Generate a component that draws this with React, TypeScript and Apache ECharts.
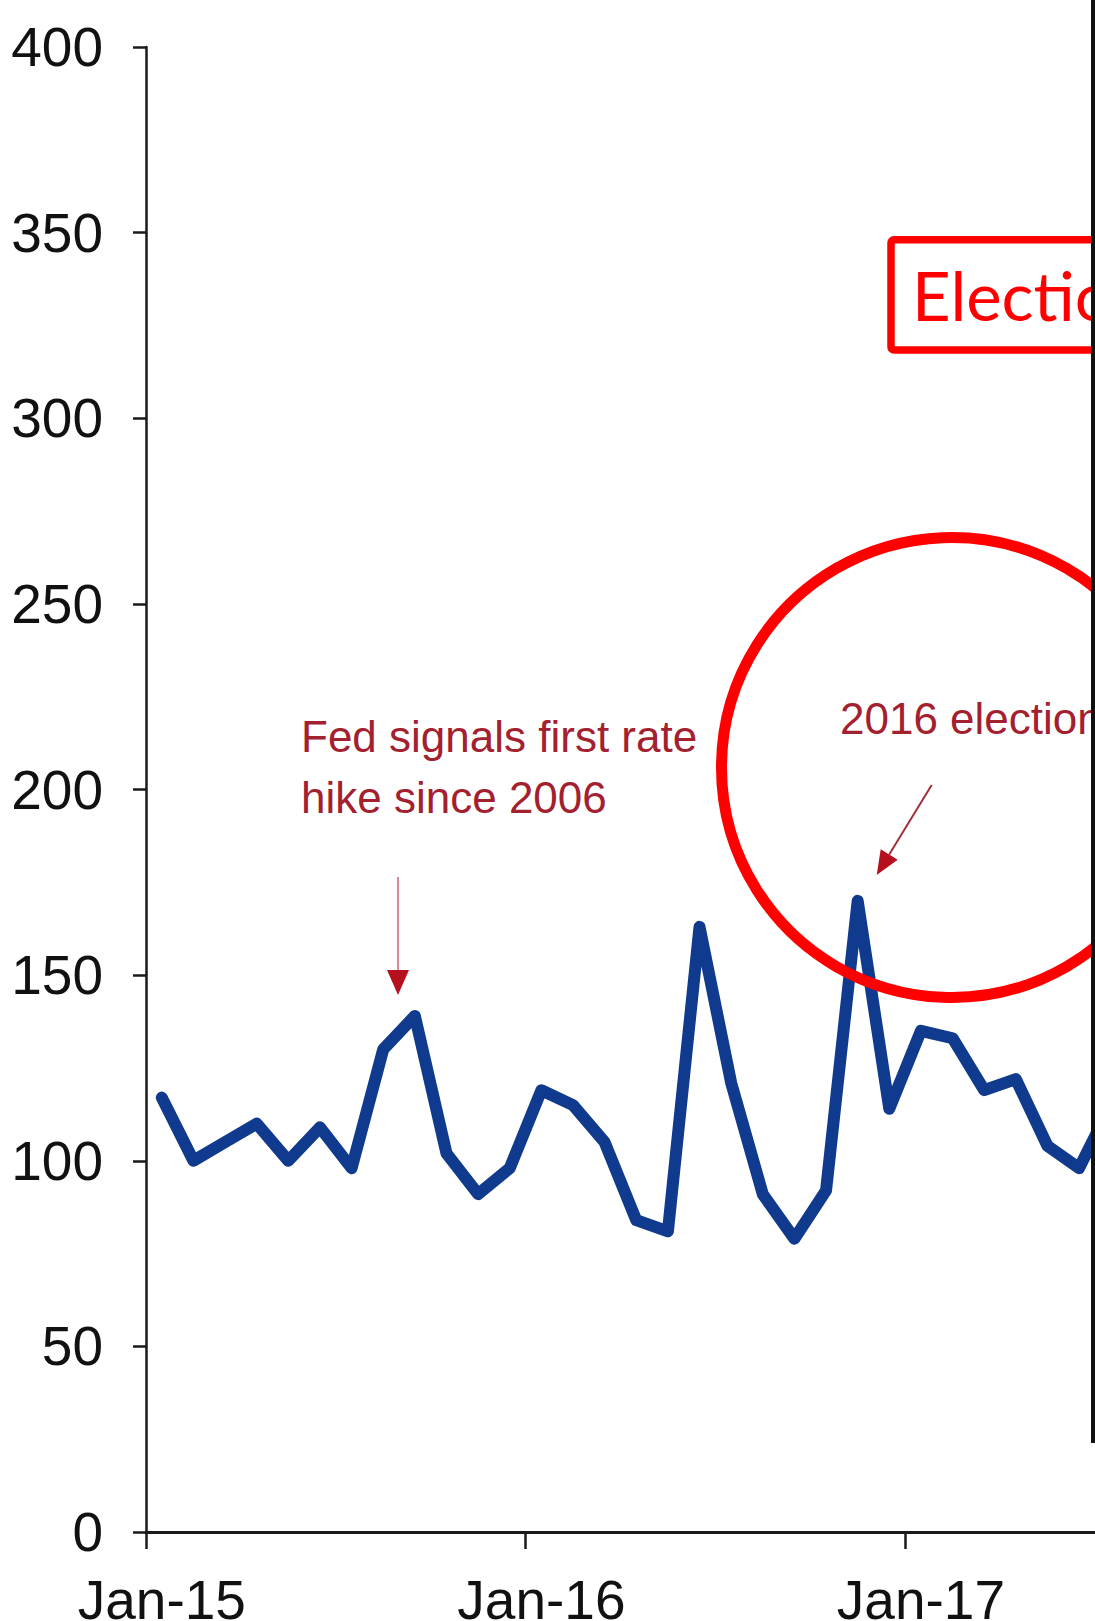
import React, { useEffect, useRef } from "react";
import * as echarts from "echarts";

const MONTHS = ["Jan", "Feb", "Mar", "Apr", "May", "Jun", "Jul", "Aug", "Sep", "Oct", "Nov", "Dec"];
const YEARS = ["15", "16", "17"];
const categories: string[] = [];
YEARS.forEach((y) => MONTHS.forEach((m) => categories.push(`${m}-${y}`)));

const values = [
  117, 100, 105, 110, 100, 109, 98, 130, 139, 102, 91, 98,
  119, 115, 105, 84, 81, 163, 121, 91, 79, 92, 170, 114,
  135, 133, 119, 122, 104, 98, 115,
];
const cats = categories.slice(0, values.length);

const yMin = 0;
const yMax = 400;
const yStep = 50;

const fedText = "Fed signals first rate\nhike since 2006";
const electionText = "2016 election";
const boxText = "Election";

export default function App() {
  const ref = useRef<HTMLDivElement>(null);
  useEffect(() => {
    document.body.style.margin = "0";
    document.body.style.overflow = "hidden";
    const chart = echarts.init(ref.current!, null, { renderer: "svg" });
    const labelFont = "'Liberation Sans', Arial, sans-serif";
    const annColor = "#a3202f";
    chart.setOption({
      animation: false,
      backgroundColor: "#ffffff",
      grid: {
        left: 146,
        top: 47,
        width: 31 * 31.63,
        height: 1485,
        containLabel: false,
        outerBoundsMode: "none",
      },
      xAxis: {
        type: "category",
        data: cats,
        boundaryGap: true,
        axisLine: { show: true, lineStyle: { color: "#1a1a1a", width: 3 } },
        axisTick: { show: true, interval: 11, length: 17, lineStyle: { color: "#1a1a1a", width: 2.5 } },
        axisLabel: {
          interval: 11,
          margin: 40,
          fontSize: 55,
          color: "#111",
          fontFamily: labelFont,
        },
        splitLine: { show: false },
      },
      yAxis: {
        type: "value",
        min: yMin,
        max: yMax,
        interval: yStep,
        axisLine: { show: true, lineStyle: { color: "#1a1a1a", width: 2.5 } },
        axisTick: { show: true, length: 13, lineStyle: { color: "#1a1a1a", width: 2.5 } },
        axisLabel: { margin: 43, fontSize: 55, color: "#111", fontFamily: labelFont },
        splitLine: { show: false },
      },
      series: [
        {
          type: "line",
          data: values,
          symbol: "none",
          clip: true,
          lineStyle: { color: "#0f3a8d", width: 12, join: "round", cap: "round" },
          z: 2,
        },
      ],
      graphic: [
        {
          type: "text",
          x: 301,
          y: 706,
          style: {
            text: fedText,
            fontSize: 44,
            lineHeight: 61,
            fill: annColor,
            fontFamily: "'Liberation Sans', Arial, sans-serif",
            verticalAlign: "top",
            align: "left",
          },
        },
        {
          type: "line",
          shape: { x1: 398, y1: 877, x2: 398, y2: 972 },
          style: { stroke: "#d98a92", lineWidth: 2 },
        },
        {
          type: "polygon",
          shape: { points: [[387, 970], [409, 970], [398, 995]] },
          style: { fill: "#b5101e" },
        },
        {
          type: "text",
          x: 840,
          y: 718,
          style: {
            text: electionText,
            fontSize: 44,
            fill: annColor,
            fontFamily: "'Liberation Sans', Arial, sans-serif",
            verticalAlign: "middle",
            align: "left",
          },
        },
        {
          type: "line",
          shape: { x1: 931.7, y1: 785, x2: 889.2, y2: 854.5 },
          style: { stroke: "#a0303a", lineWidth: 2 },
        },
        {
          type: "polygon",
          shape: { points: [[897.7, 859.7], [880.7, 849.3], [876.7, 875]] },
          style: { fill: "#b5101e" },
        },
        {
          type: "circle",
          shape: { cx: 951.5, cy: 767.5, r: 230 },
          style: { fill: "none", stroke: "#ff0000", lineWidth: 11 },
          z: 10,
        },
        {
          type: "rect",
          shape: { x: 891, y: 239.7, width: 320, height: 110.3, r: 3 },
          style: { fill: "none", stroke: "#ff0000", lineWidth: 7.5 },
          z: 10,
        },
        {
          type: "text",
          x: 912,
          y: 295,
          style: {
            text: boxText,
            fontSize: 67,
            fill: "#ff0000",
            fontFamily: "Lato, 'Open Sans', sans-serif",
            verticalAlign: "middle",
            align: "left",
          },
          z: 10,
        },
        {
          type: "rect",
          shape: { x: 1091, y: 0, width: 60, height: 1443 },
          style: { fill: "#111111" },
          z: 20,
        },
      ],
    });
    return () => chart.dispose();
  }, []);
  return (
    <div style={{ position: "absolute", left: 0, top: 0, width: 1095, height: 1621, overflow: "hidden" }}>
      <div ref={ref} style={{ width: 1160, height: 1621 }} />
    </div>
  );
}
